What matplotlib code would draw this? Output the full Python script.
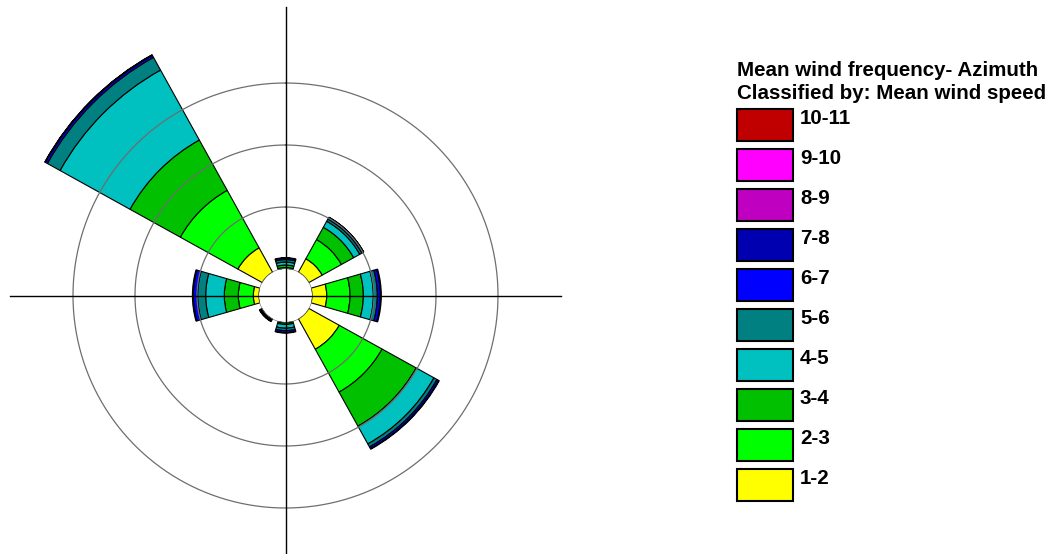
import numpy as np
import matplotlib
matplotlib.use("Agg")
import matplotlib.pyplot as plt
from matplotlib.patches import Rectangle
from matplotlib.lines import Line2D

# ---------------- data ----------------
directions = [0, 45, 90, 135, 180, 225, 270, 315]          # azimuth (deg)
speed_classes = ["1-2", "2-3", "3-4", "4-5", "5-6", "6-7", "7-8", "8-9", "9-10", "10-11"]
class_colors = ["#FFFF00", "#00FF00", "#00C000", "#00C0C0", "#008080",
                "#0000FF", "#0000B0", "#C000C0", "#FF00FF", "#C00000"]

# frequency (%) per wind-speed class, one value per direction
s1_2   = [0.00, 1.25, 1.19, 2.82, 0.00, 0.00, 0.46, 2.26]
s2_3   = [0.12, 1.77, 1.88, 3.95, 0.08, 0.05, 1.21, 5.30]
s3_4   = [0.20, 1.13, 1.07, 3.14, 0.12, 0.08, 1.13, 4.64]
s4_5   = [0.24, 0.56, 0.81, 1.64, 0.30, 0.05, 1.50, 6.45]
s5_6   = [0.20, 0.20, 0.32, 0.28, 0.20, 0.06, 0.65, 1.17]
s6_7   = [0.12, 0.12, 0.24, 0.16, 0.15, 0.03, 0.34, 0.18]
s7_8   = [0.04, 0.02, 0.08, 0.05, 0.05, 0.00, 0.08, 0.04]
s8_9   = [0.00, 0.02, 0.00, 0.00, 0.00, 0.00, 0.00, 0.02]
s9_10  = [0.00, 0.01, 0.00, 0.00, 0.00, 0.00, 0.00, 0.00]
s10_11 = [0.00, 0.00, 0.00, 0.00, 0.00, 0.00, 0.00, 0.00]
class_values = [s1_2, s2_3, s3_4, s4_5, s5_6, s6_7, s7_8, s8_9, s9_10, s10_11]

grid_levels = [0, 5, 10, 15]

legend_title = ["Mean wind frequency- Azimuth", "Classified by: Mean wind speed"]

# ---------------- layout ----------------
W, H = 1053, 554
fig = plt.figure(figsize=(W / 100, H / 100), dpi=100)
fig.patch.set_facecolor("white")

def fx(px):
    return px / W

def fy(py):
    return 1 - py / H

cx, cy = 285.5, 295.5
px_per_unit = 12.4
hole_px = 26.5
rmax = 20.5
rorigin = -hole_px / px_per_unit
R = (rmax - rorigin) * px_per_unit

ax = fig.add_axes([fx(cx - R), fy(cy + R), 2 * R / W, 2 * R / H], projection="polar")
ax.set_theta_zero_location("N")
ax.set_theta_direction(-1)
ax.set_ylim(0, rmax)
ax.set_rorigin(rorigin)
ax.set_axis_off()

theta = np.deg2rad(directions)
width = np.deg2rad(32)
bottom = np.zeros(len(directions))
for vals, color in zip(class_values, class_colors):
    vals = np.asarray(vals, dtype=float)
    m = vals > 0
    if m.any():
        ax.bar(theta[m], vals[m], width=width, bottom=bottom[m], color=color,
               edgecolor="black", linewidth=0.8, zorder=2)
    bottom += vals

tt = np.linspace(0, 2 * np.pi, 721)
for v in grid_levels:
    ax.plot(tt, np.full_like(tt, v), color="#6e6e6e", lw=0.9, zorder=3)

# cross hairs
fig.add_artist(Line2D([fx(10), fx(561)], [fy(cy), fy(cy)], color="black", lw=1.0, zorder=5))
fig.add_artist(Line2D([fx(cx), fx(cx)], [fy(7), fy(554)], color="black", lw=1.0, zorder=5))

# ---------------- legend ----------------
font = dict(family=["Liberation Sans", "DejaVu Sans"], fontweight="bold", fontsize=14.8)
fig.text(fx(737), fy(76), legend_title[0], ha="left", va="baseline", **font)
fig.text(fx(737), fy(99.3), legend_title[1], ha="left", va="baseline", **font)

for i, (lab, col) in enumerate(zip(speed_classes[::-1], class_colors[::-1])):
    top = 109.3 + 40 * i
    fig.add_artist(Rectangle((fx(737), fy(top + 32)), 56 / W, 32 / H,
                             facecolor=col, edgecolor="black", lw=1.5,
                             transform=fig.transFigure))
    fig.text(fx(800), fy(top + 14.8), lab, ha="left", va="baseline", **font)

fig.savefig("out.png", dpi=100)
